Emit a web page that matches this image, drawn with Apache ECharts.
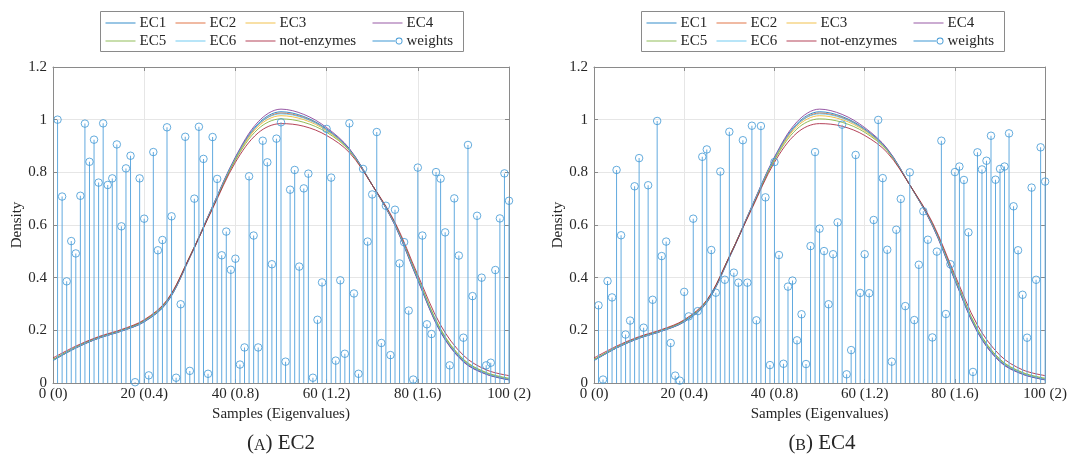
<!DOCTYPE html>
<html>
<head>
<meta charset="utf-8">
<script src="https://cdn.jsdelivr.net/npm/echarts@6/dist/echarts.min.js"></script>
<style>html,body{margin:0;padding:0;background:#fff;}#c{width:1070px;height:461px;}</style>
</head>
<body>
<div id="c"></div>
<script>
// ---------- data ----------
const curveNames = ['EC1', 'EC2', 'EC3', 'EC4', 'EC5', 'EC6', 'not-enzymes'];
const curveX = [0, 5, 10, 15, 20, 25, 30, 35, 40, 45, 50, 55, 60, 65, 70, 75, 80, 85, 90, 95, 100];
const ec1 = [0.085, 0.133, 0.170, 0.197, 0.232, 0.305, 0.475, 0.668, 0.855, 0.985, 1.030, 1.012, 0.965, 0.888, 0.752, 0.600, 0.392, 0.195, 0.082, 0.034, 0.012];
const ec2 = [0.087, 0.134, 0.171, 0.198, 0.234, 0.308, 0.478, 0.670, 0.853, 0.980, 1.025, 1.008, 0.962, 0.886, 0.752, 0.602, 0.395, 0.198, 0.085, 0.036, 0.014];
const ec3 = [0.088, 0.135, 0.172, 0.199, 0.236, 0.310, 0.480, 0.668, 0.850, 0.974, 1.015, 1.000, 0.958, 0.884, 0.752, 0.603, 0.398, 0.202, 0.088, 0.038, 0.016];
const ec4 = [0.086, 0.133, 0.170, 0.197, 0.233, 0.307, 0.478, 0.672, 0.858, 0.992, 1.040, 1.020, 0.970, 0.890, 0.752, 0.598, 0.390, 0.193, 0.080, 0.033, 0.012];
const ec5 = [0.089, 0.136, 0.173, 0.200, 0.237, 0.312, 0.480, 0.666, 0.846, 0.965, 1.003, 0.990, 0.952, 0.882, 0.752, 0.604, 0.400, 0.205, 0.090, 0.040, 0.018];
const ec6 = [0.086, 0.134, 0.171, 0.198, 0.234, 0.308, 0.478, 0.670, 0.854, 0.981, 1.022, 1.006, 0.962, 0.886, 0.752, 0.602, 0.395, 0.198, 0.085, 0.036, 0.014];
const notEnz = [0.095, 0.140, 0.176, 0.203, 0.240, 0.315, 0.480, 0.662, 0.838, 0.950, 0.985, 0.975, 0.940, 0.875, 0.752, 0.610, 0.410, 0.220, 0.105, 0.050, 0.028];
const curves = [ec1, ec2, ec3, ec4, ec5, ec6, notEnz];

// weights (stems) for samples 1..100
const weightsA = [1.0, 0.708, 0.386, 0.539, 0.492, 0.711, 0.985, 0.84, 0.924, 0.761,
  0.986, 0.752, 0.777, 0.906, 0.595, 0.815, 0.863, 0.003, 0.777, 0.624,
  0.029, 0.877, 0.504, 0.543, 0.971, 0.633, 0.02, 0.299, 0.935, 0.046,
  0.7, 0.973, 0.851, 0.035, 0.934, 0.775, 0.485, 0.575, 0.43, 0.472,
  0.07, 0.135, 0.785, 0.56, 0.135, 0.92, 0.838, 0.451, 0.928, 0.99,
  0.081, 0.734, 0.809, 0.442, 0.739, 0.795, 0.02, 0.24, 0.382, 0.965,
  0.78, 0.085, 0.39, 0.111, 0.986, 0.34, 0.035, 0.813, 0.537, 0.716,
  0.953, 0.152, 0.673, 0.106, 0.658, 0.454, 0.535, 0.275, 0.013, 0.818,
  0.56, 0.223, 0.186, 0.801, 0.776, 0.572, 0.067, 0.701, 0.484, 0.172,
  0.904, 0.33, 0.635, 0.4, 0.067, 0.077, 0.429, 0.625, 0.796, 0.692];
const weightsB = [0.295, 0.013, 0.387, 0.325, 0.809, 0.561, 0.184, 0.237, 0.747, 0.854,
  0.21, 0.751, 0.316, 0.995, 0.482, 0.537, 0.152, 0.028, 0.009, 0.346,
  0.253, 0.624, 0.273, 0.859, 0.887, 0.505, 0.343, 0.803, 0.392, 0.954,
  0.419, 0.381, 0.922, 0.381, 0.977, 0.238, 0.976, 0.705, 0.068, 0.839,
  0.486, 0.073, 0.366, 0.389, 0.162, 0.261, 0.072, 0.52, 0.877, 0.586,
  0.501, 0.299, 0.489, 0.61, 0.981, 0.033, 0.125, 0.866, 0.342, 0.489,
  0.341, 0.619, 0.999, 0.778, 0.506, 0.081, 0.582, 0.699, 0.292, 0.8,
  0.239, 0.449, 0.652, 0.544, 0.173, 0.499, 0.92, 0.262, 0.451, 0.801,
  0.822, 0.771, 0.572, 0.042, 0.876, 0.811, 0.844, 0.939, 0.772, 0.813,
  0.822, 0.948, 0.671, 0.504, 0.335, 0.172, 0.742, 0.392, 0.895, 0.765];
const xTickLabels = ['0 (0)', '20 (0.4)', '40 (0.8)', '60 (1.2)', '80 (1.6)', '100 (2)'];
const captions = [['A', ') EC2'], ['B', ') EC4']];

// ---------- styles ----------
const FONT = 'Liberation Serif';
const curveColors = ['#0072BD', '#D95319', '#EDB120', '#7E2F8E', '#77AC30', '#4DBEEE', '#A2142F'];
const stemColor = '#62aadf';
const markerColor = '#3f97d4';
const axisColor = '#8a8a8a';
const textColor = '#262626';

const panels = [
  { left: 53, right: 1070 - 509, legendX: 100, capX: 281, weights: weightsA, cap: captions[0] },
  { left: 594, right: 1070 - 1051, legendX: 641, capX: 822, weights: weightsB, cap: captions[1] }
];

const grid = [], xAxis = [], yAxis = [], series = [], legend = [], graphic = [];

panels.forEach((p, pi) => {
  grid.push({ left: p.left, right: p.right, top: 67, bottom: 78, containLabel: false });
  const commonTick = { show: true, inside: true, length: 4, lineStyle: { color: axisColor } };
  xAxis.push({
    gridIndex: pi, type: 'value', min: 0, max: 100, interval: 20, position: 'bottom',
    axisLine: { show: true, onZero: false, lineStyle: { color: axisColor } },
    axisTick: commonTick,
    splitLine: { show: true, lineStyle: { color: '#e6e6e6' } },
    axisLabel: { fontFamily: FONT, fontSize: 15, color: textColor, margin: 4,
      formatter: v => xTickLabels[Math.round(v / 20)] },
    name: 'Samples (Eigenvalues)', nameLocation: 'middle', nameGap: 19,
    nameTextStyle: { fontFamily: FONT, fontSize: 15, color: textColor, verticalAlign: 'top' }
  });
  xAxis.push({
    gridIndex: pi, type: 'value', min: 0, max: 100, interval: 20, position: 'top',
    axisLine: { show: true, onZero: false, lineStyle: { color: axisColor } },
    axisTick: commonTick, axisLabel: { show: false }, splitLine: { show: false }
  });
  yAxis.push({
    gridIndex: pi, type: 'value', min: 0, max: 1.2, interval: 0.2, position: 'left',
    axisLine: { show: true, onZero: false, lineStyle: { color: axisColor } },
    axisTick: commonTick,
    splitLine: { show: true, lineStyle: { color: '#e6e6e6' } },
    axisLabel: { fontFamily: FONT, fontSize: 15, color: textColor, margin: 6,
      formatter: v => String(Number(v.toFixed(1))) },
    name: 'Density', nameLocation: 'middle', nameGap: 26, nameRotate: 90,
    nameTextStyle: { fontFamily: FONT, fontSize: 15, color: textColor }
  });
  yAxis.push({
    gridIndex: pi, type: 'value', min: 0, max: 1.2, interval: 0.2, position: 'right',
    axisLine: { show: true, onZero: false, lineStyle: { color: axisColor } },
    axisTick: commonTick, axisLabel: { show: false }, splitLine: { show: false }
  });

  curves.forEach((arr, ci) => {
    series.push({
      type: 'line', name: curveNames[ci], xAxisIndex: pi * 2, yAxisIndex: pi * 2,
      data: curveX.map((x, i) => [x, arr[i]]), smooth: 0.35, symbol: 'none',
      lineStyle: { width: 1, color: curveColors[ci], opacity: 0.8 },
      itemStyle: { color: curveColors[ci] }, z: 2, silent: true
    });
  });
  const stemData = p.weights.map((w, i) => [i + 1, w]);
  series.push({
    type: 'bar', name: 'weights', xAxisIndex: pi * 2, yAxisIndex: pi * 2,
    data: stemData, barWidth: 1, itemStyle: { color: stemColor }, z: 3, silent: true
  });
  series.push({
    type: 'scatter', name: 'weights', xAxisIndex: pi * 2, yAxisIndex: pi * 2,
    data: stemData, symbol: 'circle', symbolSize: 7.5,
    itemStyle: { color: 'rgba(255,255,255,0)', borderColor: markerColor, borderWidth: 1 },
    z: 4, silent: true
  });

  // legend box
  graphic.push({
    type: 'rect', shape: { x: p.legendX + 0.5, y: 11.5, width: 363, height: 40 },
    style: { fill: '#fff', stroke: axisColor, lineWidth: 1 }, z: 0
  });
  const cols = [
    { x: 5, items: [{ name: 'EC1' }, { name: 'EC5' }] },
    { x: 75, items: [{ name: 'EC2' }, { name: 'EC6' }] },
    { x: 145, items: [{ name: 'EC3' }, { name: 'not-enzymes' }] },
    { x: 272, items: [{ name: 'EC4' }, {
      name: 'weights',
      icon: 'path://M0,3.1h24v0.8h-24z M23.5,3.5a3.5,3.5 0 1,0 7,0a3.5,3.5 0 1,0 -7,0z M24.4,3.5a2.6,2.6 0 1,1 5.2,0a2.6,2.6 0 1,1 -5.2,0z',
      itemStyle: { color: markerColor, opacity: 1 }
    }] }
  ];
  cols.forEach((c, k) => {
    legend.push({
      id: 'lg' + pi + '_' + k, orient: 'vertical', left: p.legendX + c.x, top: 15,
      padding: 0, itemWidth: 30, itemHeight: 7, itemGap: 2, selectedMode: false,
      data: c.items,
      itemStyle: { opacity: 0 },
      lineStyle: { width: 1 },
      textStyle: { fontFamily: FONT, fontSize: 15, color: textColor, lineHeight: 16, padding: [0, 0, 0, -1] },
      z: 5
    });
  });

  graphic.push({
    type: 'text', x: p.capX, y: 443,
    style: {
      text: '({sc|' + p.cap[0] + '}' + p.cap[1],
      font: '21px "Liberation Serif"', fill: textColor,
      align: 'center', verticalAlign: 'middle',
      rich: { sc: { fontFamily: FONT, fontSize: 16, fill: textColor, verticalAlign: 'bottom' } }
    }
  });
});

const chart = echarts.init(document.getElementById('c'), null, { renderer: 'canvas' });
chart.setOption({
  animation: false,
  backgroundColor: '#fff',
  grid, xAxis, yAxis, series, legend, graphic
});
</script>
</body>
</html>
